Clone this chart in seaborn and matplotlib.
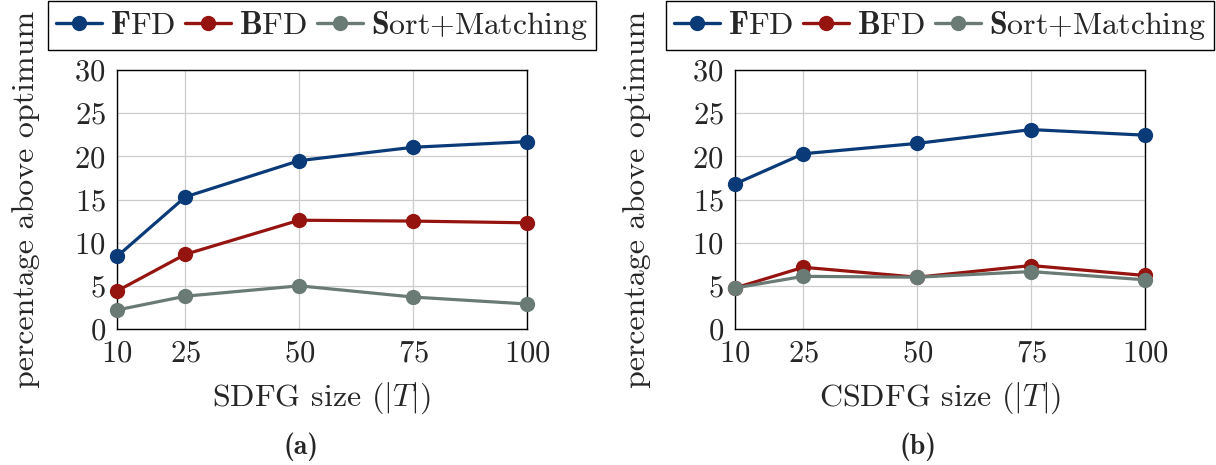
import pandas as pd
import matplotlib.pyplot as plt
import seaborn as sns

# =========================
# DATA
# =========================
sizes = [10, 25, 50, 75, 100]
methods = ["FFD", "BFD", "Sort+Matching"]
legend_labels = [r"$\mathbf{F}$FD", r"$\mathbf{B}$FD", r"$\mathbf{S}$ort+Matching"]

sdfg_ffd = [8.4, 15.3, 19.5, 21.05, 21.7]
sdfg_bfd = [4.4, 8.65, 12.6, 12.5, 12.3]
sdfg_sm = [2.2, 3.8, 5.0, 3.7, 2.9]

csdfg_ffd = [16.8, 20.3, 21.5, 23.1, 22.45]
csdfg_bfd = [4.75, 7.15, 6.0, 7.35, 6.2]
csdfg_sm = [4.75, 6.1, 6.0, 6.65, 5.7]

y_ticks = [0, 5, 10, 15, 20, 25, 30]
colors = ["#0A3A78", "#961410", "#6A7B76"]


def long_df(ffd, bfd, sm):
    rows = []
    for name, vals in zip(methods, [ffd, bfd, sm]):
        for s, v in zip(sizes, vals):
            rows.append({"size": s, "method": name, "value": v})
    return pd.DataFrame(rows)


df_a = long_df(sdfg_ffd, sdfg_bfd, sdfg_sm)
df_b = long_df(csdfg_ffd, csdfg_bfd, csdfg_sm)

# =========================
# STYLE
# =========================
sns.set_style("whitegrid")
plt.rcParams["font.family"] = ["cmr10"]
plt.rcParams["mathtext.fontset"] = "cm"
plt.rcParams["axes.formatter.use_mathtext"] = True
plt.rcParams["axes.unicode_minus"] = False

W, H = 1216, 465
fig = plt.figure(figsize=(W / 100, H / 100), dpi=100)
ax_a = fig.add_axes([117 / W, 1 - 329 / H, 410 / W, 259 / H])
ax_b = fig.add_axes([735 / W, 1 - 329 / H, 410 / W, 259 / H])

panels = [
    (ax_a, df_a, "SDFG size ($|T|$)", "(a)", 301, -0.188),
    (ax_b, df_b, "CSDFG size ($|T|$)", "(b)", 918, -0.205),
]

for ax, df, xlabel, tag, tag_x, ylab_x in panels:
    sns.lineplot(
        data=df, x="size", y="value", hue="method", hue_order=methods,
        palette=colors, marker="o", markersize=11, markeredgewidth=0,
        linewidth=2.3, ax=ax, legend=False, clip_on=False, zorder=3,
    )
    ax.set_xlim(10, 100)
    ax.set_ylim(0, 30)
    ax.set_xticks(sizes)
    ax.set_yticks(y_ticks)
    ax.grid(True, color="#cccccc", linewidth=0.9)
    for sp in ax.spines.values():
        sp.set_color("black")
        sp.set_linewidth(1.0)
    ax.tick_params(axis="both", labelsize=22, direction="in", length=5,
                   color="#888888", pad=8)
    ax.set_xlabel(xlabel, fontsize=23)
    ax.set_ylabel("percentage above optimum", fontsize=23)
    ax.xaxis.set_label_coords(0.5, -0.2)
    ax.yaxis.set_label_coords(ylab_x, 0.5)
    handles = [
        plt.Line2D([], [], color=c, marker="o", markersize=10, linewidth=2.4)
        for c in colors
    ]
    ax.legend(handles, legend_labels, loc="lower center",
              bbox_to_anchor=(0.5, 1.077), ncol=3, fontsize=23, frameon=True,
              fancybox=False, edgecolor="black", framealpha=1,
              handlelength=1.45, handletextpad=0.25, columnspacing=0.3,
              borderpad=0.25, borderaxespad=0)
    fig.text(tag_x / W, 1 - 447 / H, tag, fontfamily="cmb10",
             ha="center", va="center", fontsize=20)

fig.savefig("out.png", dpi=100)
